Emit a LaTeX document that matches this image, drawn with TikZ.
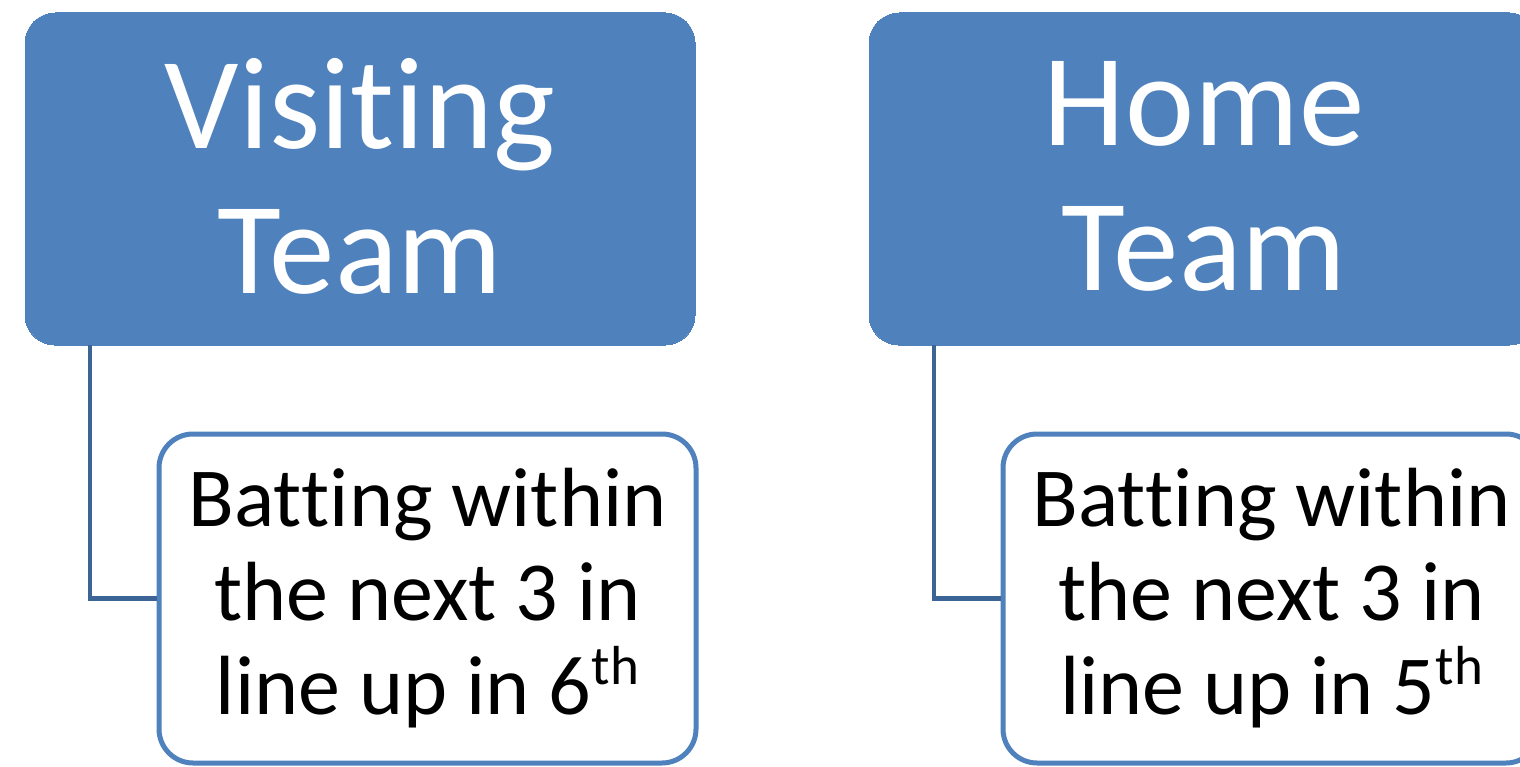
\documentclass[tikz,border=0pt]{standalone}
\usepackage{fontspec}
\setmainfont{Carlito}[Ligatures=NoCommon, RawFeature={-liga;-clig;-dlig;-calt}]
\definecolor{accent}{HTML}{4F81BD}
\definecolor{linkc}{HTML}{3C6496}
\newcommand{\supth}{\raisebox{0.36em}{\fontsize{55}{55}\selectfont th}}
\newcommand{\nl}{\kern0pt}
\tikzset{
  headbox/.style={rectangle, rounded corners=30pt, fill=accent, draw=accent, line width=0pt,
    minimum width=670pt, minimum height=332pt, inner sep=0pt, text=white, align=center,
    font=\fontsize{131}{145}\selectfont},
  subbox/.style={rectangle, rounded corners=34pt, fill=white, draw=accent, line width=5pt,
    minimum width=537pt, minimum height=329pt, inner sep=0pt, text=black, align=center,
    font=\fontsize{84}{94}\selectfont},
  link/.style={draw=linkc, line width=4.5pt}
}
\begin{document}
\begin{tikzpicture}[x=1pt,y=-1pt]
\useasboundingbox (0,0) rectangle (1520,767);
\clip (0,0) rectangle (1520,767);
\node[headbox] (vis) at (360,179) {\raisebox{6pt}{\parbox[b]{600pt}{\centering Visit\nl ing\\Team}}};
\node[headbox] (home) at (1204,179) {\raisebox{6pt}{\parbox[b]{600pt}{\centering Home\\Team}}};
\node[subbox] (visb) at (427.5,598.5) {\raisebox{-6pt}{\parbox[b]{530pt}{\centering Bat\nl t\nl ing within\\the next 3 in\\line up in 6\supth}}};
\node[subbox] (homeb) at (1271.5,598.5) {\raisebox{-6pt}{\parbox[b]{530pt}{\centering Bat\nl t\nl ing within\\the next 3 in\\line up in 5\supth}}};
\draw[link] ([xshift=65pt]vis.south west) |- (visb.west);
\draw[link] ([xshift=65pt]home.south west) |- (homeb.west);
\end{tikzpicture}
\end{document}
